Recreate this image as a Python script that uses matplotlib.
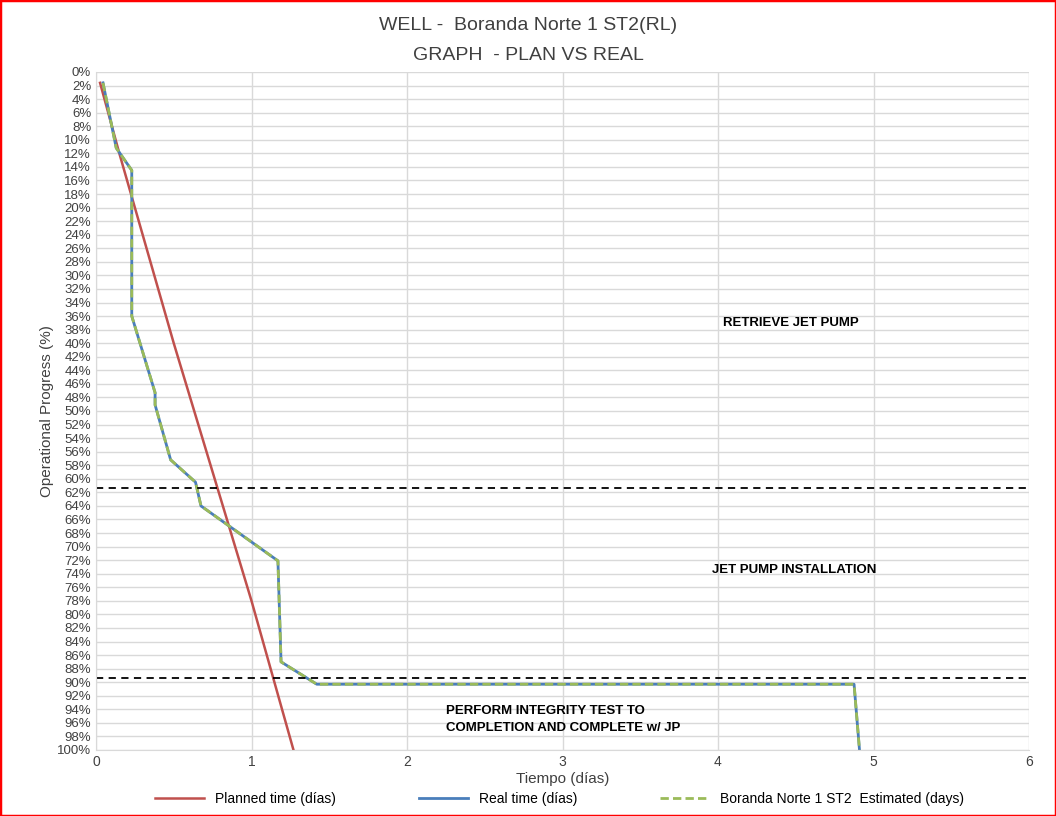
import matplotlib
matplotlib.use("Agg")
import matplotlib.pyplot as plt
from matplotlib.patches import Rectangle

plt.rcParams['font.family'] = ['Liberation Sans', 'DejaVu Sans']

plan_t = [0.026, 0.15, 0.5, 1.0, 1.27]
plan_p = [1.6, 12, 40, 78, 100]
real_t = [0.045, 0.13, 0.23, 0.23, 0.38, 0.38, 0.48, 0.64, 0.675, 1.17, 1.19, 1.42, 4.875, 4.91]
real_p = [1.6, 11.2, 14.5, 36, 47.3, 49.1, 57.2, 60.5, 64, 72.1, 87, 90.3, 90.3, 100]
phase_lines = [61.4, 89.4]
labels = [(4.03, 37, "RETRIEVE JET PUMP"), (3.96, 73.5, "JET PUMP INSTALLATION"),
          (2.25, 95.5, "PERFORM INTEGRITY TEST TO\nCOMPLETION AND COMPLETE w/ JP")]

fig = plt.figure(figsize=(10.56, 8.16), dpi=100)
ax = fig.add_axes([96/1056, 1-750/816, (1029-96)/1056, (750-72)/816])
ax.set_xlim(0, 6); ax.set_ylim(100, 0)
ax.set_yticks(range(0, 101, 2))
ax.set_yticklabels([f"{v}%" for v in range(0, 101, 2)], fontsize=9.5, color="#404040")
ax.set_xticks(range(0, 7))
ax.tick_params(axis='x', labelsize=10, colors="#404040", length=0)
ax.tick_params(axis='y', length=0)
ax.grid(True, color="#d9d9d9", lw=1)
ax.set_axisbelow(True)
for s in ["top", "right"]:
    ax.spines[s].set_visible(False)
ax.spines["left"].set_color("#d9d9d9"); ax.spines["bottom"].set_color("#d9d9d9")

ax.plot(plan_t, plan_p, color="#c0504d", lw=1.8, label="Planned time (días)")
ax.plot(real_t, real_p, color="#4a7ebb", lw=2, label="Real time (días)")
ax.plot(real_t, real_p, color="#9bbb59", lw=2, ls=(0, (3, 1.5)), label="Boranda Norte 1 ST2  Estimated (days)")
for y in phase_lines:
    ax.axhline(y, color="black", lw=1.3, ls=(0, (4, 3)))
for x, y, t in labels:
    ax.text(x, y, t, fontsize=9.5, fontweight="bold", ha="left", va="center", linespacing=1.6)

ax.set_xlabel("Tiempo (días)", fontsize=11, color="#404040", labelpad=2)
ax.set_ylabel("Operational Progress (%)", fontsize=11, color="#404040", labelpad=2)
fig.text(0.5, 1-25/816, "WELL -  Boranda Norte 1 ST2(RL)", ha="center", va="center", fontsize=14, color="#404040")
fig.text(0.5, 1-55/816, "GRAPH  - PLAN VS REAL", ha="center", va="center", fontsize=14, color="#404040")
fig.legend(loc="lower center", ncol=3, frameon=False, fontsize=10, bbox_to_anchor=(0.53, -0.003),
           columnspacing=6, handlelength=3.5)
fig.patches.append(Rectangle((0, 0), 1, 1, transform=fig.transFigure, fill=False, ec="red", lw=2.5))
fig.savefig("out.png", dpi=100)
